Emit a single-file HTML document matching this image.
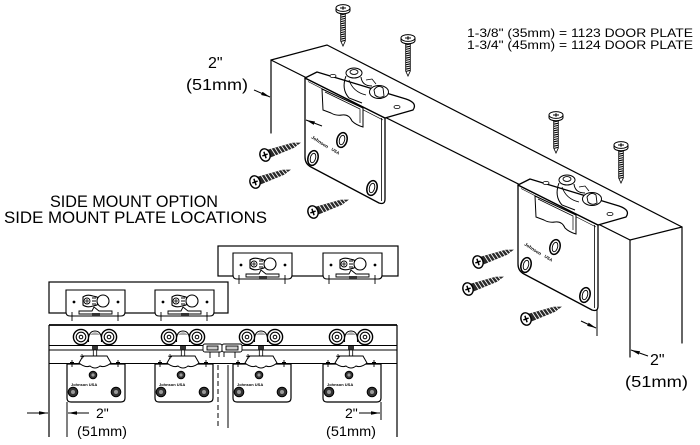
<!DOCTYPE html>
<html><head><meta charset="utf-8">
<style>
html,body{margin:0;padding:0;background:#fff;width:700px;height:445px;overflow:hidden}
svg{display:block}
text{font-family:"Liberation Sans",Arial,sans-serif;fill:#000}
</style></head><body>
<svg width="700" height="445" viewBox="0 0 700 445" xmlns="http://www.w3.org/2000/svg">
<defs>
<marker id="ah" markerUnits="userSpaceOnUse" viewBox="0 0 10 4" refX="10" refY="2" markerWidth="9" markerHeight="3.6" orient="auto"><path d="M0,0 L10,2 L0,4 Z" fill="#000"/></marker>

<g id="ms">
 <path d="M-2.3,4 V33 L0,38 L2.3,33 V4 Z" fill="#fff" stroke="#000" stroke-width="0.8"/>
 <path d="M-2.3,7 L2.3,6 M-2.3,9.2 L2.3,8.2 M-2.3,11.4 L2.3,10.4 M-2.3,13.6 L2.3,12.6 M-2.3,15.8 L2.3,14.8 M-2.3,18 L2.3,17 M-2.3,20.2 L2.3,19.2 M-2.3,22.4 L2.3,21.4 M-2.3,24.6 L2.3,23.6 M-2.3,26.8 L2.3,25.8 M-2.3,29 L2.3,28 M-2.3,31.2 L2.3,30.2 M-2,33.4 L2,32.4" stroke="#000" stroke-width="1.1"/>
 <path d="M-7,0 V2.6 A7,3.2 0 0 0 7,2.6 V0" fill="#fff" stroke="#000" stroke-width="1"/>
 <ellipse cx="0" cy="0" rx="7" ry="3.4" fill="#fff" stroke="#000" stroke-width="1"/>
 <path d="M-3,0 H3 M0,-1.8 V1.8" stroke="#000" stroke-width="1.1"/>
</g>

<g id="ws">
 <path d="M4,-4.2 L30,-2.6 L38,0 L30,2.6 L4,4.2 Z" fill="#2a2a2a"/>
 <path d="M8,-4 L10,4 M11.5,-3.8 L13.5,3.8 M15,-3.6 L17,3.6 M18.5,-3.4 L20.5,3.4 M22,-3.2 L24,3.2 M25.5,-3 L27.5,3 M29,-2.7 L31,2.7 M32.5,-1.8 L34,1.8" stroke="#fff" stroke-width="0.9"/>
 <ellipse cx="0" cy="0" rx="5" ry="6.3" fill="#fff" stroke="#000" stroke-width="1.4"/>
 <path d="M-2.8,0 H2.8 M0,-3.4 V3.4" stroke="#000" stroke-width="1.5"/>
</g>

<g id="asm">
 <path d="M305,78 L385,118 L385,199 Q385,205 379,203 L311,167 Q305,164 305,157 Z" fill="#fff" stroke="#000" stroke-width="1.3" stroke-linejoin="round"/>
 <path d="M381.5,118 V201" stroke="#000" stroke-width="0.8" fill="none"/>
 <path d="M305,78 L317,72 L406,99 Q418,103 413,110 L385,118 Z" fill="#fff" stroke="#000" stroke-width="1.3" stroke-linejoin="round"/>
 <path d="M308,81.5 L383,120" stroke="#000" stroke-width="0.6" fill="none"/>
 <path d="M322,89 L363,108 L363,127 Q356,125 352,121 Q349,114 342,115 Q336,116 331,113 L323,110 Z" fill="#fff" stroke="#000" stroke-width="1"/>
 <path d="M325,92 L360,109 L360,123" fill="none" stroke="#000" stroke-width="0.7"/>
 <path d="M346,76 Q341,89 349,98 L362,103" fill="none" stroke="#000" stroke-width="1"/>
 <path d="M361,77 Q362,86 372,86" fill="none" stroke="#000" stroke-width="1"/>
 <path d="M349,80 Q353,92 366,95" fill="none" stroke="#000" stroke-width="0.8"/>
 <ellipse cx="354" cy="73" rx="8" ry="5" fill="#fff" stroke="#000" stroke-width="1"/>
 <ellipse cx="354" cy="72" rx="4" ry="2.4" fill="#fff" stroke="#000" stroke-width="0.9"/>
 <ellipse cx="379" cy="92" rx="9.5" ry="6.5" fill="#fff" stroke="#000" stroke-width="1"/>
 <path d="M374,90 Q378,84 383,88 L384,96 Q379,99 375,95 Z" fill="#fff" stroke="#000" stroke-width="0.9"/>
 <path d="M366,80 L372,79 L376,84" fill="none" stroke="#000" stroke-width="0.8"/>
 <ellipse cx="333" cy="76" rx="3" ry="1.6" fill="#fff" stroke="#000" stroke-width="0.8"/>
 <ellipse cx="397" cy="107" rx="3" ry="1.6" fill="#fff" stroke="#000" stroke-width="0.8"/>
 <g fill="#fff" stroke="#000">
  <ellipse cx="342" cy="140" rx="5" ry="7.5" transform="rotate(15 342 140)" stroke-width="1.5"/>
  <ellipse cx="342" cy="140" rx="2.6" ry="4.8" transform="rotate(15 342 140)" stroke-width="0.9"/>
  <ellipse cx="313" cy="158" rx="5" ry="7.5" transform="rotate(15 313 158)" stroke-width="1.5"/>
  <ellipse cx="313" cy="158" rx="2.6" ry="4.8" transform="rotate(15 313 158)" stroke-width="0.9"/>
  <ellipse cx="372" cy="188" rx="5" ry="7.5" transform="rotate(15 372 188)" stroke-width="1.5"/>
  <ellipse cx="372" cy="188" rx="2.6" ry="4.8" transform="rotate(15 372 188)" stroke-width="0.9"/>
 </g>
 <text x="311" y="138" font-size="4.6" font-weight="bold" transform="rotate(33 311 138)">Johnson</text>
 <text x="331" y="150" font-size="4.2" font-weight="bold" transform="rotate(33 331 150)">USA</text>
 <use href="#ms" transform="translate(343,8)"/>
 <use href="#ms" transform="translate(408,38)"/>
 <use href="#ws" transform="translate(265,155) rotate(-19)"/>
 <use href="#ws" transform="translate(255,182) rotate(-19)"/>
 <use href="#ws" transform="translate(313,212) rotate(-19)"/>
</g>

<g id="hang">
 <g fill="#fff" stroke="#000">
  <circle cx="14" cy="337" r="7.6" stroke-width="1.4"/>
  <circle cx="14" cy="337" r="4.8" stroke-width="1.1"/>
  <circle cx="14" cy="337" r="1.8" stroke-width="1"/>
  <circle cx="42" cy="337" r="7.6" stroke-width="1.4"/>
  <circle cx="42" cy="337" r="4.8" stroke-width="1.1"/>
  <circle cx="42" cy="337" r="1.8" stroke-width="1"/>
  <path d="M21.5,342 Q21,331 28,331 Q35,331 34.5,342" stroke-width="1.1"/>
 </g>
 <path d="M23,335 Q28,329.5 33,335 Z" fill="#aaa"/>
 <path d="M0,364 H58 V398 Q58,402 54,402 H4 Q0,402 0,398 Z" fill="#fff" stroke="#000" stroke-width="1.2"/>
 <rect x="25" y="346" width="6" height="4" fill="#333"/>
 <rect x="26.3" y="350" width="3.4" height="6" fill="#fff" stroke="#000" stroke-width="0.8"/>
 <path d="M12,363 L16,356 L40,356 L44,363 Q38,368 33,366 Q28,370 23,366 Q18,368 12,363 Z" fill="#fff" stroke="#000" stroke-width="1"/>
 <path d="M17,357 L13,356 M15,354 V359" stroke="#000" stroke-width="0.8"/>
 <path d="M5,360 V367 M3,362.5 H7 M51,360 V367 M49,362.5 H53" stroke="#000" stroke-width="0.9"/>
 <g stroke="#000">
  <circle cx="26" cy="375" r="3.8" fill="#333" stroke-width="1"/>
  <circle cx="26" cy="375" r="1.6" fill="#999" stroke="none"/>
  <circle cx="6" cy="392" r="4.8" fill="#333" stroke-width="1"/>
  <circle cx="6" cy="392" r="2" fill="#999" stroke="none"/>
  <circle cx="49" cy="392" r="4.8" fill="#333" stroke-width="1"/>
  <circle cx="49" cy="392" r="2" fill="#999" stroke="none"/>
 </g>
 <text x="4" y="386" font-size="4" font-weight="bold">Johnson USA</text>
</g>

<g id="sp">
 <path d="M0,0 H59 V22 Q59,26 55,26 H4 Q0,26 0,22 Z" fill="#fff" stroke="#000" stroke-width="1.1"/>
 <circle cx="8" cy="12" r="1.4" fill="#000"/>
 <circle cx="52" cy="12" r="1.4" fill="#000"/>
 <path d="M17,7 Q21,4 27,6 L31,7 Q33,11 31,15 L27,16 Q21,18 17,15 Z" fill="#fff" stroke="#000" stroke-width="1.1"/>
 <circle cx="21" cy="11" r="3" fill="#fff" stroke="#000" stroke-width="0.9"/>
 <path d="M19,11 H23 M21,9 V13" stroke="#000" stroke-width="0.8"/>
 <path d="M26,8 H30 M26,11 H30 M26,14 H30" stroke="#000" stroke-width="0.9"/>
 <circle cx="37" cy="11" r="6" fill="#fff" stroke="#000" stroke-width="1.1"/>
 <path d="M28,17 L26,21 L13,21 L13,24 L46,24 L46,21 L33,21 Z" fill="#fff" stroke="#000" stroke-width="0.9"/>
 <rect x="26" y="23" width="8" height="3" fill="#333"/>
 <path d="M6,22 V31 M4,26 H8 M52,22 V31 M50,26 H54" stroke="#000" stroke-width="0.9"/>
</g>
</defs>

<text x="467" y="37" font-size="12" textLength="226" lengthAdjust="spacingAndGlyphs">1-3/8" (35mm) = 1123 DOOR PLATE</text>
<text x="467" y="49" font-size="12" textLength="226" lengthAdjust="spacingAndGlyphs">1-3/4" (45mm) = 1124 DOOR PLATE</text>

<g stroke="#000" stroke-width="1.2" fill="none" stroke-linecap="round">
 <path d="M271,133 V60 L327,45 L682,227 V343"/>
 <path d="M271,60 L630,240 V357"/>
 <path d="M630,240 L682,227"/>
</g>

<use href="#asm"/>
<use href="#asm" transform="translate(213,107)"/>

<text x="208" y="68" font-size="16">2"</text>
<text x="186" y="90" font-size="16" textLength="62" lengthAdjust="spacingAndGlyphs">(51mm)</text>
<line x1="254" y1="90" x2="270" y2="97" stroke="#000" stroke-width="1" marker-end="url(#ah)"/>
<line x1="322" y1="126" x2="306" y2="120" stroke="#000" stroke-width="1" marker-end="url(#ah)"/>

<line x1="597" y1="310" x2="597" y2="336" stroke="#000" stroke-width="1"/>
<line x1="581" y1="321" x2="596" y2="328" stroke="#000" stroke-width="1" marker-end="url(#ah)"/>
<line x1="648" y1="356" x2="631" y2="350" stroke="#000" stroke-width="1" marker-end="url(#ah)"/>
<text x="650" y="365" font-size="16">2"</text>
<text x="625" y="387" font-size="16" textLength="63" lengthAdjust="spacingAndGlyphs">(51mm)</text>

<text x="50" y="207" font-size="16.5" textLength="168" lengthAdjust="spacingAndGlyphs">SIDE MOUNT OPTION</text>
<text x="4" y="223" font-size="16.5" textLength="263" lengthAdjust="spacingAndGlyphs">SIDE MOUNT PLATE LOCATIONS</text>

<rect x="218" y="246" width="180" height="30" fill="#fff" stroke="#000" stroke-width="1.2"/>
<use href="#sp" transform="translate(233,253)"/>
<use href="#sp" transform="translate(323,253)"/>
<rect x="49" y="282" width="179" height="31" fill="#fff" stroke="#000" stroke-width="1.2"/>
<use href="#sp" transform="translate(66,290)"/>
<use href="#sp" transform="translate(155,290)"/>

<g stroke="#000" fill="none">
 <line x1="49" y1="325" x2="397" y2="325" stroke-width="1.8"/>
 <line x1="49" y1="345.5" x2="397" y2="345.5" stroke-width="1"/>
 <line x1="49" y1="350" x2="397" y2="350" stroke-width="1"/>
 <line x1="49" y1="363.5" x2="397" y2="363.5" stroke-width="1"/>
 <line x1="49" y1="325" x2="49" y2="437" stroke-width="1.2"/>
 <line x1="397" y1="325" x2="397" y2="437" stroke-width="1.2"/>
 <line x1="218" y1="365" x2="218" y2="428" stroke-width="1" stroke-dasharray="5,3"/>
 <line x1="228" y1="365" x2="228" y2="428" stroke-width="1"/>
</g>

<use href="#hang" transform="translate(67,0)"/>
<use href="#hang" transform="translate(155,0)"/>
<use href="#hang" transform="translate(233,0)"/>
<use href="#hang" transform="translate(323,0)"/>

<g stroke="#000" stroke-width="0.9">
 <rect x="203" y="344" width="19" height="8" rx="2" fill="#fff"/>
 <rect x="222" y="344" width="20" height="8" rx="2" fill="#fff"/>
 <rect x="207" y="346" width="11" height="4" fill="#ccc"/>
 <rect x="226" y="346" width="12" height="4" fill="#ccc"/>
 <path d="M210,352 V358 M219,352 V357 M224,352 V357 M235,352 V358" fill="none"/>
</g>

<line x1="67" y1="402" x2="67" y2="437" stroke="#000" stroke-width="1"/>
<line x1="381" y1="402" x2="381" y2="420" stroke="#000" stroke-width="1"/>
<line x1="27" y1="413" x2="48" y2="413" stroke="#000" stroke-width="1" marker-end="url(#ah)"/>
<line x1="89" y1="413" x2="68" y2="413" stroke="#000" stroke-width="1" marker-end="url(#ah)"/>
<line x1="359" y1="413" x2="380" y2="413" stroke="#000" stroke-width="1" marker-end="url(#ah)"/>
<text x="96" y="418" font-size="14">2"</text>
<text x="77" y="436" font-size="14" textLength="50" lengthAdjust="spacingAndGlyphs">(51mm)</text>
<text x="345" y="418" font-size="14">2"</text>
<text x="326" y="436" font-size="14" textLength="50" lengthAdjust="spacingAndGlyphs">(51mm)</text>
</svg>
</body></html>
